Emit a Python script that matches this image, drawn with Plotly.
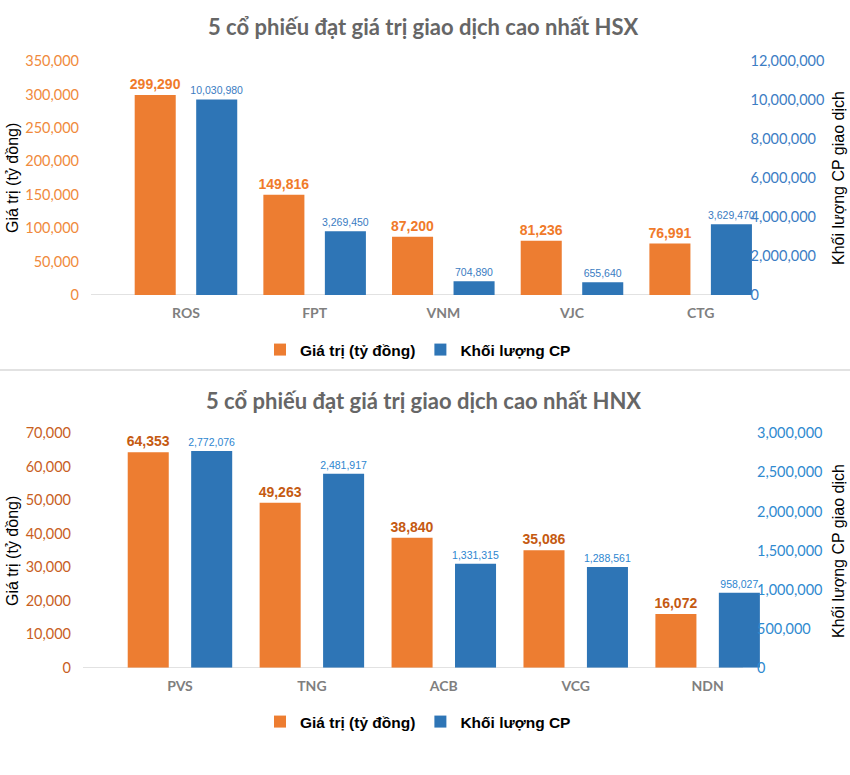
import plotly.graph_objects as go

# ---------------- data ----------------
hsx_codes = ["ROS", "FPT", "VNM", "VJC", "CTG"]
hsx_value = [299290, 149816, 87200, 81236, 76991]          # Giá trị (tỷ đồng)
hsx_volume = [10030980, 3269450, 704890, 655640, 3629470]  # Khối lượng CP

hnx_codes = ["PVS", "TNG", "ACB", "VCG", "NDN"]
hnx_value = [64353, 49263, 38840, 35086, 16072]
hnx_volume = [2772076, 2481917, 1331315, 1288561, 958027]

series_names = ["Giá trị (tỷ đồng)", "Khối lượng CP"]
titles = ["5 cổ phiếu đạt giá trị giao dịch cao nhất HSX",
          "5 cổ phiếu đạt giá trị giao dịch cao nhất HNX"]
left_title = "Giá trị (tỷ đồng)"
right_title = "Khối lượng CP giao dịch"

# ---------------- style ----------------
W, H = 850, 775
OFF = 0  # body margin removed via post_script
ORANGE = "#ED7D31"
BLUE = "#2E75B6"
NARROW = "Liberation Sans Narrow, Arial Narrow, Liberation Sans, Arial, sans-serif"
CAL = "Lato, Carlito, Calibri, sans-serif"
ARIAL = "Liberation Sans, Arial, sans-serif"

def px_x(p):
    return (p - OFF) / W

def px_y(p):
    return 1 - (p - OFF) / H

fig = go.Figure()

def add_pair(codes, vals, vols, xa, ya_l, ya_r, legend, bw, slot, lab_orange, lab_blue):
    fig.add_trace(go.Bar(
        x=codes, y=vals, name=series_names[0], xaxis=xa, yaxis=ya_l,
        marker=dict(color=ORANGE, line=dict(width=0)),
        width=bw, offset=-slot / 2 - bw / 2,
        texttemplate="%{y:,}", textposition="outside", cliponaxis=False,
        constraintext="none",
        textfont=dict(family=NARROW, size=14, color=lab_orange, weight="bold"),
        legend=legend, hoverinfo="x+y"))
    fig.add_trace(go.Bar(
        x=codes, y=vols, name=series_names[1], xaxis=xa, yaxis=ya_r,
        marker=dict(color=BLUE, line=dict(width=0)),
        width=bw, offset=slot / 2 - bw / 2,
        texttemplate="%{y:,}", textposition="outside", cliponaxis=False,
        constraintext="none",
        textfont=dict(family=NARROW, size=10.5, color=lab_blue),
        legend=legend, hoverinfo="x+y"))

add_pair(hsx_codes, hsx_value, hsx_volume, "x", "y", "y2", "legend",
         0.319, 0.478, "#F07A2A", "#3A7CC2")
add_pair(hnx_codes, hnx_value, hnx_volume, "x2", "y3", "y4", "legend2",
         0.311, 0.481, "#C55A11", "#2E86D0")

xcommon = dict(type="category", showgrid=False, zeroline=False, showline=False,
               ticks="", automargin=False,
               tickfont=dict(family=CAL, size=14, color="#7F7F7F", weight="bold"),
               ticklabelstandoff=8, fixedrange=True)
ycommon = dict(showgrid=False, zeroline=False, showline=False, ticks="",
               automargin=False, tickformat=",d", fixedrange=True)

legend_common = dict(orientation="h", x=px_x(418), xanchor="center", yanchor="middle",
                     font=dict(family=ARIAL, size=15.5, color="black", weight="bold"),
                     itemwidth=30, tracegroupgap=0, bgcolor="rgba(0,0,0,0)")

fig.update_layout(
    width=W, height=H, margin=dict(l=0, r=0, t=0, b=0, autoexpand=False),
    paper_bgcolor="white", plot_bgcolor="rgba(0,0,0,0)",
    barmode="overlay", showlegend=True,
    xaxis=dict(xcommon, domain=[px_x(91), px_x(765)], range=[-0.738, 4.5], anchor="y"),
    xaxis2=dict(xcommon, domain=[px_x(83), px_x(773.6)], range=[-0.735, 4.5], anchor="y3"),
    yaxis=dict(ycommon, domain=[px_y(295), px_y(61)], range=[0, 350000], dtick=50000,
               anchor="free", position=px_x(79),
               tickfont=dict(family=CAL, size=14.5, color="#F08A3C")),
    yaxis2=dict(ycommon, overlaying="y", side="right", range=[0, 12000000], dtick=2000000,
                anchor="free", position=px_x(749.5),
                tickfont=dict(family=CAL, size=14.5, color="#3C7DC4")),
    yaxis3=dict(ycommon, domain=[px_y(667.7), px_y(433.3)], range=[0, 70000], dtick=10000,
                anchor="free", position=px_x(71),
                tickfont=dict(family=CAL, size=14.5, color="#C8601E")),
    yaxis4=dict(ycommon, overlaying="y3", side="right", range=[0, 3000000], dtick=500000,
                anchor="free", position=px_x(756),
                tickfont=dict(family=CAL, size=14.5, color="#2F8AD0")),
    legend=dict(legend_common, y=px_y(350)),
    legend2=dict(legend_common, y=px_y(722)),
)

# titles
for t, yc in zip(titles, [27, 400]):
    fig.add_annotation(text=t, x=px_x(423), y=px_y(yc), xref="paper", yref="paper",
                       showarrow=False, xanchor="center", yanchor="middle",
                       font=dict(family=CAL, size=22, color="#666666", weight="bold"))

# axis titles
for yc in [178, 551]:
    fig.add_annotation(text=left_title, x=px_x(12), y=px_y(yc), xref="paper", yref="paper",
                       showarrow=False, textangle=-90, xanchor="center", yanchor="middle",
                       font=dict(family=ARIAL, size=16, color="black"))
    fig.add_annotation(text=right_title, x=px_x(838), y=px_y(yc), xref="paper", yref="paper",
                       showarrow=False, textangle=-90, xanchor="center", yanchor="middle",
                       font=dict(family=ARIAL, size=16, color="black"))

# baselines
fig.add_shape(type="line", xref="x", yref="y", x0=-0.738, x1=4.272, y0=0, y1=0,
              line=dict(color="#D9D9D9", width=1.5), layer="below")
fig.add_shape(type="line", xref="x2", yref="y3", x0=-0.735, x1=4.268, y0=0, y1=0,
              line=dict(color="#D9D9D9", width=1.5), layer="below")
# separator between the two charts
fig.add_shape(type="line", xref="paper", yref="paper", x0=0, x1=1, y0=px_y(370), y1=px_y(370),
              line=dict(color="#D9D9D9", width=1.5))

fig.write_html("out.html", config={"displayModeBar": False},
               post_script="document.body.style.margin='0px';document.body.style.overflow='hidden';")
